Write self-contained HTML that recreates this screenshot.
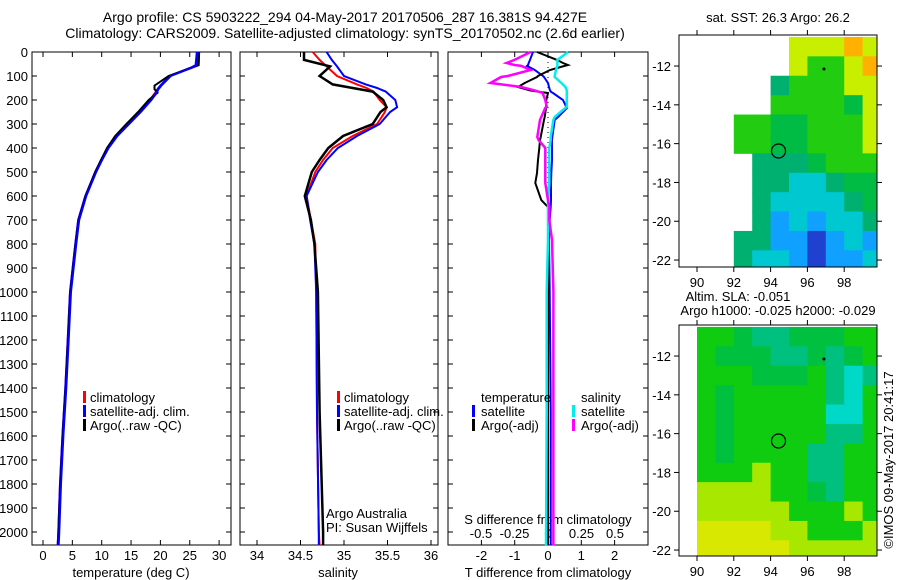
<!DOCTYPE html>
<html><head><meta charset="utf-8"><style>
body{margin:0;background:#fff;}
svg{display:block;font-family:"Liberation Sans",sans-serif;}
text{fill:#000;}
</style></head><body>
<svg id="c" width="900" height="580" viewBox="0 0 900 580"></svg>
<script>
// ---------- data ----------
const tDepth=[0,55,65,100,140,155,170,200,250,300,350,400,450,500,600,700,800,1000,1200,1400,1600,1800,2000,2055];
const tClim=[26.6,26.5,25.5,21.6,20.0,19.5,19.1,18.2,16.3,14.3,12.4,11.0,9.9,8.9,7.2,6.0,5.5,4.6,4.2,3.8,3.3,2.9,2.6,2.5];
const tSat=[26.2,26.0,25.2,21.6,20.0,19.5,19.2,18.3,16.5,14.5,12.5,11.0,9.9,8.9,7.2,6.0,5.5,4.6,4.2,3.8,3.3,2.9,2.6,2.5];
const tArgo=[26.6,26.5,25.3,21.4,19.0,19.0,19.5,18.0,16.2,14.2,12.3,10.9,9.9,8.9,7.3,6.1,5.6,4.7,4.3,3.9,3.4,3.0,2.7,2.6];
const sDepth=[0,33,60,100,135,150,165,200,230,250,300,350,400,450,500,600,700,800,1000,1500,2000,2055];
const sClim=[34.64,34.72,34.80,34.92,35.15,35.26,35.34,35.41,35.49,35.47,35.38,35.10,34.87,34.76,34.67,34.57,34.62,34.67,34.68,34.69,34.71,34.72];
const sSat=[34.80,34.86,34.92,35.00,35.25,35.38,35.48,35.59,35.61,35.53,35.41,35.15,34.93,34.80,34.70,34.57,34.61,34.66,34.68,34.69,34.71,34.71];
const sArgo=[34.54,34.54,34.84,34.72,34.87,35.10,35.33,35.45,35.49,35.42,35.33,34.99,34.82,34.72,34.63,34.55,34.62,34.66,34.70,34.72,34.76,34.76];
const dDepth=[0,33,46,54,58,75,100,104,129,146,160,167,171,200,229,233,271,283,354,367,400,450,504,546,617,646,700,783,1000,1500,2055];
const dTsat=[-0.45,-0.54,-0.58,-0.6,-0.63,-0.4,-0.15,-0.12,0.0,0.03,0.06,0.1,0.15,0.45,0.55,0.57,0.3,0.2,0.13,0.12,0.12,0.12,0.1,0.09,0.09,0.08,0.05,0.03,0.05,0.08,0.08];
const dTargo=[-0.33,0.27,0.45,0.6,0.5,0.06,-0.3,-0.33,-0.7,-0.9,-0.54,-0.2,0.0,-0.05,-0.06,-0.06,-0.1,-0.12,-0.22,-0.24,-0.26,-0.3,-0.33,-0.38,-0.2,0.0,0.0,0.0,0.0,0.0,0.0];
const dSsat=[0.15,0.07,0.07,0.07,0.07,0.06,0.05,0.05,0.1,0.13,0.14,0.14,0.14,0.14,0.14,0.13,0.05,0.04,0.02,0.02,0.01,0.01,0.01,0.01,0.0,0.0,0.0,0.0,-0.01,-0.01,-0.015];
const dSargo=[-0.13,-0.25,-0.31,-0.25,-0.2,-0.13,-0.3,-0.35,-0.43,-0.2,-0.1,-0.06,-0.04,-0.02,-0.01,-0.02,-0.05,-0.06,-0.08,-0.07,-0.02,-0.02,-0.02,-0.02,0.0,0.01,0.01,0.03,0.04,0.04,0.04];
const depthTicks=[0,100,200,300,400,500,600,700,800,900,1000,1100,1200,1300,1400,1500,1600,1700,1800,1900,2000];
const tempTicks=[0,5,10,15,20,25,30];
const salTicks=[34,34.5,35,35.5,36];
const tdTicks=[-2,-1,0,1,2];
const sdTicks=[-0.5,-0.25,0,0.25,0.5];
const lonTicks=[90,92,94,96,98];
const latTicks=[-12,-14,-16,-18,-20,-22];
// SST grid rows (lat -10.5 downward, 1 deg), cols lon 89..99
const sstRows=["......yyyoy","......yGGyo",".....tGGGyy",".....GGGGgy","...GGggGGGy","...GGggGGGy","....tttgGGG","....ttcctgg","....tcccctg","....tBcBcct","...ttBBbBcB","...tccBbBBc"];
const slaRows=[".GGgttgggGG",".GgggttgtgG",".GGGgggGtct",".GgGGGGGtcG",".GgGGGGGccG",".GgGGGGGttG",".GgGGGGttGG",".GGGyGGttGG",".yyyyGGgtGG",".yyyyyGGGyG",".YYYYyyGGGy",".YYYYYyyyyy"];
const sstColors={G:"#22cc11",g:"#00bb44",t:"#00b070",c:"#00c8d0",B:"#10a0ff",b:"#2040d0",y:"#c8ee00",o:"#ffb000"};
const slaColors={G:"#10cc10",g:"#00c040",t:"#00c080",c:"#00d8c8",y:"#a8e800",Y:"#d8e800"};

// ---------- helpers ----------
const S=document.getElementById('c');const NS="http://www.w3.org/2000/svg";
function mk(tag,at,txt){const e=document.createElementNS(NS,tag);for(const k in at)e.setAttribute(k,at[k]);if(txt!=null)e.textContent=txt;S.appendChild(e);return e;}
const Y0=52,PY=0.24;
const yD=d=>Y0+d*PY;
const xT=v=>43+v*5.87;
const xS=v=>257+(v-34)*87;
const xDT=v=>548+v*33.3;
const xDS=v=>548+v*134;

function panel(x0,x1,name){
  const r=mk('rect',{x:x0,y:Y0,width:x1-x0,height:545-Y0,fill:'none',stroke:'#000','stroke-width':1});
  
  depthTicks.forEach(d=>{mk('line',{x1:x0,x2:x0+5,y1:yD(d),y2:yD(d),stroke:'#000'});mk('line',{x1:x1-5,x2:x1,y1:yD(d),y2:yD(d),stroke:'#000'});});
}
function line(xs,ds,fx,col,w,name){
  const p=xs.map((v,i)=>fx(v).toFixed(1)+','+yD(ds[i]).toFixed(1)).join(' ');
  const e=mk('polyline',{points:p,fill:'none',stroke:col,'stroke-width':w});
  
}
function xticks(x0,x1,ticks,fx,name){
  ticks.forEach(t=>{const x=fx(t);mk('line',{x1:x,x2:x,y1:545,y2:540,stroke:'#000'});mk('line',{x1:x,x2:x,y1:Y0,y2:Y0+5,stroke:'#000'});
    const e=mk('text',{x:x,y:560,'font-size':13,'text-anchor':'middle'},String(t));});
}
function label(x,y,txt,name,anchor,size){const e=mk('text',{x:x,y:y,'font-size':size||13,'text-anchor':anchor||'start'},txt);return e;}
function legTick(x,y,col,name){const e=mk('rect',{x:x,y:y-11,width:3,height:12,fill:col});}

// titles
label(345,22,"Argo profile: CS 5903222_294 04-May-2017 20170506_287 16.381S 94.427E","title-line-1","middle",14);
label(345,38,"Climatology: CARS2009. Satellite-adjusted climatology: synTS_20170502.nc (2.6d earlier)","title-line-2","middle",14);

// depth labels
depthTicks.forEach(d=>{const e=label(28,yD(d)+5,String(d),'depth-tick-label','end',13);});

// panel 1
panel(32,231,'temperature-panel');
xticks(32,231,tempTicks,xT,'temperature');
line(tClim,tDepth,xT,'#ff0000',2,'temperature-climatology-line');
line(tSat,tDepth,xT,'#0000ff',2,'temperature-satellite-line');
line(tArgo,tDepth,xT,'#000000',2,'temperature-argo-line');
line(tSat,tDepth,v=>xT(v)+1,'#0000ff',2,'temperature-satellite-line-2');
label(131,577,"temperature (deg C)","temperature-axis-title","middle",13);
legTick(83,402,'#ff0000','legend-climatology-tick');label(90,402,"climatology","legend-climatology");
legTick(83,416,'#0000ff','legend-satellite-tick');label(90,416,"satellite-adj. clim.","legend-satellite");
legTick(83,430,'#000000','legend-argo-tick');label(90,430,"Argo(..raw -QC)","legend-argo");

// panel 2
panel(240,438,'salinity-panel');
xticks(240,438,salTicks,xS,'salinity');
line(sClim,sDepth,xS,'#ff0000',2,'salinity-climatology-line');
line(sSat,sDepth,xS,'#0000ff',2,'salinity-satellite-line');
line(sArgo,sDepth,xS,'#000000',2.5,'salinity-argo-line');
label(338,577,"salinity","salinity-axis-title","middle",13);
legTick(337,402,'#ff0000','legend2-climatology-tick');label(344,402,"climatology","legend2-climatology");
legTick(337,416,'#0000ff','legend2-satellite-tick');label(344,416,"satellite-adj. clim.","legend2-satellite");
legTick(337,430,'#000000','legend2-argo-tick');label(344,430,"Argo(..raw -QC)","legend2-argo");
label(326,518,"Argo Australia","credit-argo-australia");
label(326,532,"PI: Susan Wijffels","credit-pi");

// panel 3
panel(448,648,'difference-panel');
xticks(448,648,tdTicks,xDT,'t-difference');
sdTicks.forEach(t=>{label(xDS(t),538,String(t),'s-difference-tick-label','middle',13);});
label(548,524,"S difference from climatology","s-difference-axis-title","middle",13);
label(548,577,"T difference from climatology","t-difference-axis-title","middle",13);
mk('line',{x1:548,x2:548,y1:Y0,y2:yD(800),stroke:'#000','stroke-dasharray':'1,4'});
line(dTsat,dDepth,xDT,'#0000ff',2,'t-diff-satellite-line');
line(dTargo,dDepth,xDT,'#000000',2,'t-diff-argo-line');
line(dSsat,dDepth,xDS,'#00eeee',2.5,'s-diff-satellite-line');
line(dSargo,dDepth,xDS,'#ff00ff',2.5,'s-diff-argo-line');
label(481,402,"temperature","legend3-temperature-heading");
label(581,402,"salinity","legend3-salinity-heading");
legTick(472,416,'#0000ff','legend3-t-satellite-tick');label(481,416,"satellite","legend3-t-satellite");
legTick(472,430,'#000000','legend3-t-argo-tick');label(481,430,"Argo(-adj)","legend3-t-argo");
legTick(572,416,'#00eeee','legend3-s-satellite-tick');label(581,416,"satellite","legend3-s-satellite");
legTick(572,430,'#ff00ff','legend3-s-argo-tick');label(581,430,"Argo(-adj)","legend3-s-argo");

// maps
function map(top,rows,colors,name,bottom){
  const L=679,R=877,latTop=-10.4;
  const xL=lon=>697+(lon-90)*18.4;
  const yL=lat=>top+(latTop-lat)*19.4;
  const g=document.createElementNS(NS,'g');S.appendChild(g);
  
  rows.forEach((row,j)=>{for(let i=0;i<row.length;i++){const ch=row[i];if(!colors[ch])continue;
    const x0=Math.max(L,xL(89+i)),x1=Math.min(R,xL(90+i));
    const y0=Math.max(top,yL(-10.5-j)),y1=Math.min(bottom,yL(-11.5-j));
    if(x1<=x0||y1<=y0)continue;
    const c=document.createElementNS(NS,'rect');
    c.setAttribute('x',x0);c.setAttribute('y',y0);c.setAttribute('width',x1-x0+0.5);c.setAttribute('height',y1-y0+0.5);c.setAttribute('fill',colors[ch]);
    
    
    g.appendChild(c);}});
  mk('rect',{x:L,y:top,width:R-L,height:bottom-top,fill:'none',stroke:'#000'});
  lonTicks.forEach(l=>{const x=xL(l);mk('line',{x1:x,x2:x,y1:top,y2:top-5,stroke:'#000'});mk('line',{x1:x,x2:x,y1:bottom,y2:bottom+5,stroke:'#000'});label(x,bottom+20,String(l),name+'-lon-label','middle',13);});
  latTicks.forEach(l=>{const y=yL(l);mk('line',{x1:L,x2:L-5,y1:y,y2:y,stroke:'#000'});mk('line',{x1:R,x2:R+5,y1:y,y2:y,stroke:'#000'});label(L-8,y+5,String(l),name+'-lat-label','end',13);});
  const c=mk('circle',{cx:xL(94.43),cy:yL(-16.38),r:7,fill:'none',stroke:'#000','stroke-width':1.2});
  mk('circle',{cx:xL(96.9),cy:yL(-12.15),r:1.5,fill:'#000'});
}
map(35,sstRows,sstColors,'sst-map',267);
label(778,22,"sat. SST: 26.3 Argo: 26.2","sst-map-title","middle",13);
map(325,slaRows,slaColors,'sla-map',556);
label(738,301,"Altim. SLA: -0.051","sla-map-title","middle",13);
label(778,315,"Argo h1000: -0.025 h2000: -0.029","sla-map-subtitle","middle",13);
const cr=label(0,0,"©IMOS 09-May-2017 20:41:17","timestamp-credit","middle",13);
cr.setAttribute('transform','translate(893,460) rotate(-90)');
</script>
</body></html>
